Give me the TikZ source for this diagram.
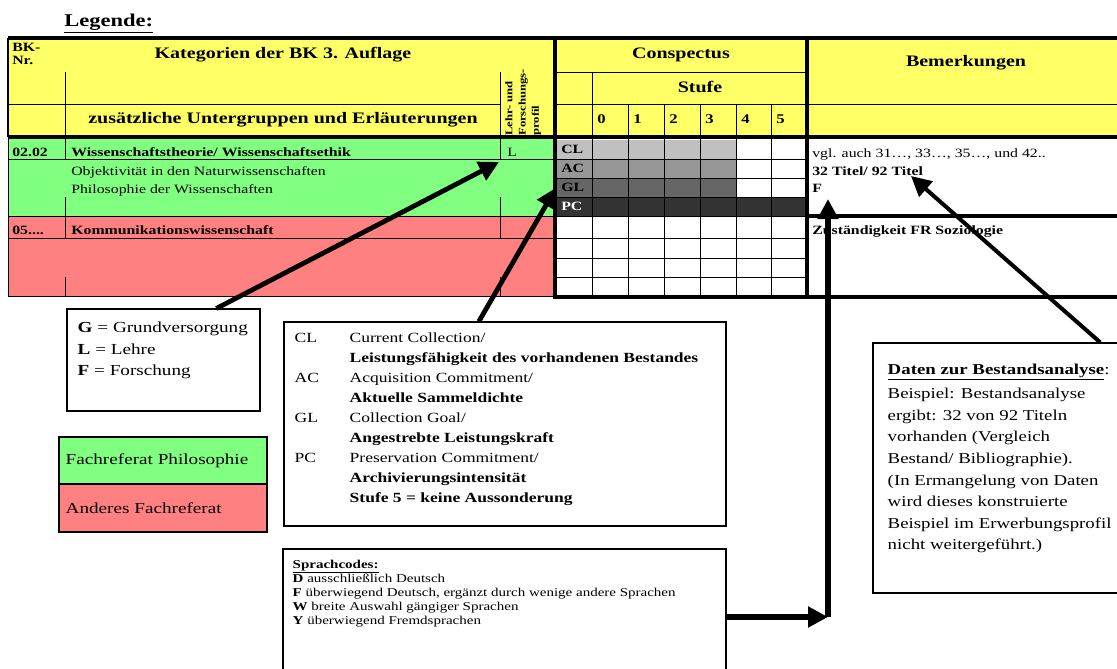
\documentclass[tikz,border=0pt]{standalone}
\usepackage{fontspec}
\setmainfont{Liberation Serif}[FakeStretch=1.25]
\usetikzlibrary{arrows.meta,positioning,fit,calc}

\definecolor{hdryellow}{HTML}{FFFF66}
\definecolor{philgreen}{HTML}{80FF80}
\definecolor{otherred}{HTML}{FF8080}
\definecolor{clgray}{HTML}{C0C0C0}
\definecolor{acgray}{HTML}{969696}
\definecolor{glgray}{HTML}{666666}
\definecolor{pcgray}{HTML}{333333}

\tikzset{
  thinrule/.style={line width=0.6pt},
  thickrule/.style={line width=2.6pt},
  legbox/.style={draw, line width=0.8pt, inner sep=0pt},
  txt/.style={inner sep=0pt, font=\fontsize{9.5}{11}\selectfont},
  btxt/.style={inner sep=0pt, font=\fontsize{9.5}{11}\selectfont\bfseries},
  headtxt/.style={inner sep=0pt, font=\fontsize{12}{14}\selectfont\bfseries},
  rowlabel/.style={anchor=north west, minimum width=27.75pt, minimum height=14.25pt,
    text width=20.25pt, inner xsep=3.75pt, inner ysep=0pt, align=left,
    font=\fontsize{9.5}{11}\selectfont\bfseries},
  notetxt/.style={inner sep=0pt, align=left},
  keytxt/.style={inner sep=0pt, font=\fontsize{11.5}{14}\selectfont},
  pointer/.style={line width=3.6pt, -{Triangle[length=15pt,width=15pt]}},
}

\begin{document}
\begin{tikzpicture}[x=0.75pt,y=-0.75pt]
\useasboundingbox (0,0) rectangle (1117,668);

\node[anchor=base west, inner sep=0pt, font=\fontsize{13.5}{16}\selectfont\bfseries] (legende) at (64,26) {\underline{Legende:}};

% fills
\fill[hdryellow] (8,38) rectangle (1117,137);
\fill[philgreen] (8,137) rectangle (555,216);
\fill[otherred] (8,216) rectangle (555,296);
\foreach \y/\shade in {140/clgray,159/acgray,178/glgray}
  \fill[\shade] (555,\y) rectangle (736,\y+19);
\fill[pcgray] (555,197) rectangle (807,216);

% left block
\draw[thinrule] (8,104) -- (500,104)
  (65,72) -- (65,137) (500,72) -- (500,137)
  (8,137) -- (8,296) -- (555,296);
\foreach \y in {159,216,238}
  \draw[thinrule] (8,\y) -- (555,\y);
\foreach \x in {65,500}
  \draw[thinrule] (\x,137) -- (\x,159) (\x,197) -- (\x,238) (\x,277) -- (\x,296);

% conspectus grid
\draw[thinrule] (555,72) -- (807,72) (555,104) -- (1117,104) (592,72) -- (592,297);
\foreach \x in {628,664,700,736,771}
  \draw[thinrule] (\x,104) -- (\x,297);
\foreach \y in {159,178,197,216,238,258,277}
  \draw[thinrule] (555,\y) -- (807,\y);

% frame
\draw[thickrule] (8,38) -- (1117,38) (8,137) -- (1117,137)
  (555,38) -- (555,297) -- (1117,297) (807,38) -- (807,297) (807,216) -- (1117,216);
\draw[line width=1.6pt] (8,38) -- (8,137);

% header texts
\node[anchor=north west, align=left, inner sep=0pt, font=\fontsize{9.5}{9.75}\selectfont\bfseries] (bknr) at (12,43) {BK-\\Nr.};
\node[headtxt, anchor=base] (kategorien) at (283,58) {Kategorien der BK 3. Auflage};
\node[headtxt, anchor=base] (untergruppen) at (283,123) {zusätzliche Untergruppen und Erläuterungen};
\node[rotate=90, anchor=north west, align=left, inner sep=0pt, font=\fontsize{7.6}{10}\selectfont\bfseries] (profil) at (505,136) {Lehr- und\\Forschungs-\\profil};
\node[headtxt, anchor=base] (conspectus) at (681,58) {Conspectus};
\node[headtxt, anchor=base] (stufe) at (700,92) {Stufe};
\foreach \xc [count=\i from 0] in {592,628,664,700,736,771}
  \node[anchor=base west, inner sep=0pt, font=\fontsize{10}{12}\selectfont\bfseries] (digit\i) at (\xc+5,123) {\i};
\node[headtxt, anchor=base] (bemerkungen) at (966,66) {Bemerkungen};

% conspectus rows
\node[rowlabel] (cl) at (556,140) {CL};
\node[rowlabel] (ac) at (556,159) {AC};
\node[rowlabel] (gl) at (556,178) {GL};
\node[rowlabel, text=white] (pc) at (556,197) {PC};

% body texts
\node[btxt, anchor=base west] (bknum) at (12,156) {02.02};
\node[btxt, anchor=base west] (wisstheorie) at (71,156) {Wissenschaftstheorie/ Wissenschaftsethik};
\node[txt, anchor=base west] (lmark) at (507,156) {L};
\node[txt, anchor=base west] (objektiv) at (71,175) {Objektivität in den Naturwissenschaften};
\node[txt, anchor=base west] (philwiss) at (71,193) {Philosophie der Wissenschaften};
\node[btxt, anchor=base west] (kommnum) at (12,234) {05....};
\node[btxt, anchor=base west] (kommwiss) at (71,234) {Kommunikationswissenschaft};
\node[txt, anchor=base west] (vgl) at (812,157) {vgl. auch 31…, 33…, 35…, und 42..};
\node[btxt, anchor=base west] (titel) at (812,175) {32 Titel/ 92 Titel};
\node[btxt, anchor=base west] (fcode) at (812,192) {F};
\node[btxt, anchor=base west] (zust) at (812,234) {Zuständigkeit FR Soziologie};

% legend boxes
\node[legbox, fit={(67,309) (260,411)}] (glfbox) {};
\node[notetxt, font=\fontsize{11.5}{16}\selectfont, below right=10pt and 8.25pt of glfbox.north west] (glftext)
  {\textbf{G} = Grundversorgung\\\textbf{L} = Lehre\\\textbf{F} = Forschung};

\node[legbox, fill=philgreen, fit={(59,437) (267,484)}] (greenkey) {};
\node[legbox, fill=otherred, fit={(59,484) (267,532)}] (redkey) {};
\node[keytxt, right=5.25pt of greenkey.west] (greenlabel) {Fachreferat Philosophie};
\node[keytxt, right=5.25pt of redkey.west] (redlabel) {Anderes Fachreferat};

\node[legbox, fit={(284,322) (726,526)}] (clbox) {};
\node[notetxt, font=\fontsize{10.5}{15}\selectfont, below right=5pt and 8.25pt of clbox.north west] (cltext) {%
  \begin{tabular}{@{}p{41.25pt}@{}l@{}}
  CL & Current Collection/\\
     & \textbf{Leistungsfähigkeit des vorhandenen Bestandes}\\
  AC & Acquisition Commitment/\\
     & \textbf{Aktuelle Sammeldichte}\\
  GL & Collection Goal/\\
     & \textbf{Angestrebte Leistungskraft}\\
  PC & Preservation Commitment/\\
     & \textbf{Archivierungsintensität}\\
     & \textbf{Stufe 5 = keine Aussonderung}
  \end{tabular}};

\node[legbox, fit={(283,549) (726,685)}] (sprachbox) {};
\node[notetxt, font=\fontsize{9}{10.6}\selectfont, below right=8.2pt and 7.5pt of sprachbox.north west] (sprachtext) {%
  \underline{\textbf{Sprachcodes:}}\\
  \textbf{D} ausschließlich Deutsch\\
  \textbf{F} überwiegend Deutsch, ergänzt durch wenige andere Sprachen\\
  \textbf{W} breite Auswahl gängiger Sprachen\\
  \textbf{Y} überwiegend Fremdsprachen};

\node[legbox, fit={(873,343) (1135,593)}] (datenbox) {};
\node[notetxt, font=\fontsize{11.3}{16.2}\selectfont, below right=16pt and 11.25pt of datenbox.north west] (datentext) {%
  \underline{\textbf{Daten zur Bestandsanalyse}}:\\[2pt]
  Beispiel: Bestandsanalyse\\
  ergibt: 32 von 92 Titeln\\
  vorhanden (Vergleich\\
  Bestand/ Bibliographie).\\
  (In Ermangelung von Daten\\
  wird dieses konstruierte\\
  Beispiel im Erwerbungsprofil\\
  nicht weitergeführt.)};

% pointers
\coordinate (lpoint) at (499,162);
\coordinate (fpoint) at (828,199);
\coordinate (titelpoint) at (911,176);
\coordinate (bend) at (828,617);
\draw[pointer] ($(glfbox.north west)!0.772!(glfbox.north east)$) -- (lpoint);
\draw[pointer] ($(clbox.north west)!0.441!(clbox.north east)$) -- (gl.west);
\draw[pointer, line width=4.5pt] (sprachbox.east) -- (bend);
\draw[pointer, line width=4.5pt] (bend) -- (fpoint);
\draw[pointer, line width=3pt] ($(datenbox.north west)!0.866!(datenbox.north east)$) -- (titelpoint);
\end{tikzpicture}
\end{document}
